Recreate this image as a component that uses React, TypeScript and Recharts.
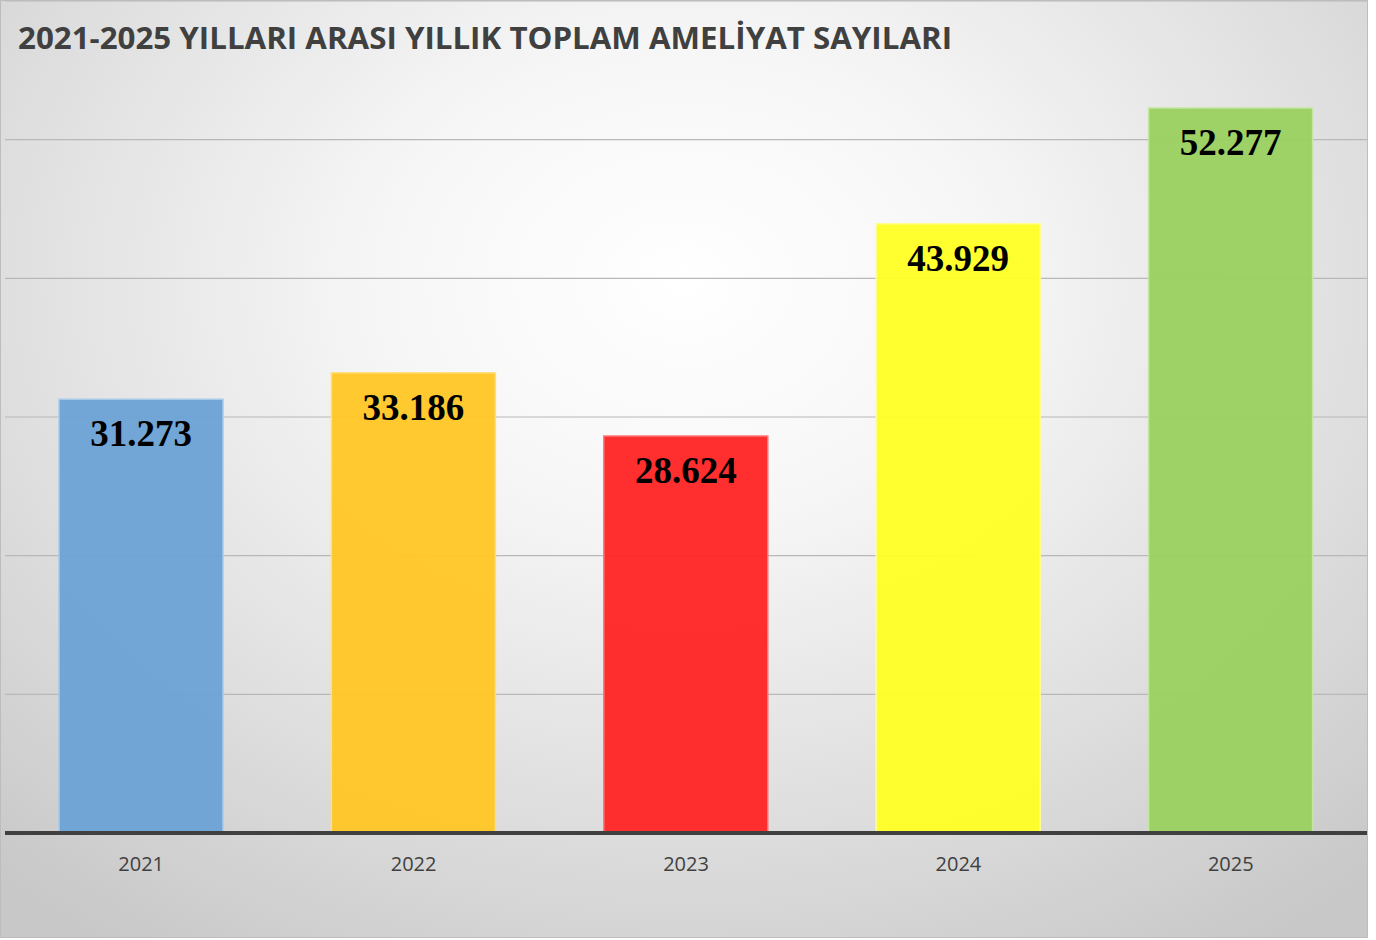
import React from "react";
import { Bar, BarChart, CartesianGrid, Cell, LabelList, XAxis, YAxis } from "recharts";

const years = ["2021", "2022", "2023", "2024", "2025"];
const surgeries = [31273, 33186, 28624, 43929, 52277];
const barColors = ["#6aa2d6", "#ffc624", "#ff2424", "#ffff24", "#9ad160"];
const barEdges = ["#a9c9ea", "#ffdf80", "#ff7878", "#ffff90", "#c4e6a0"];
const gridTicks = [0, 10000, 20000, 30000, 40000, 50000];

const data = years.map((year, i) => ({ year, value: surgeries[i] }));

const formatTr = (v: number) => String(v).replace(/\B(?=(\d{3})+(?!\d))/g, ".");

const ValueLabel = (props: any) => {
  const { x, y, width, value } = props;
  return (
    <text
      x={x + width / 2}
      y={y + 47}
      textAnchor="middle"
      fontFamily="'Liberation Serif', 'Times New Roman', serif"
      fontWeight={700}
      fontSize={37}
      fill="#000"
    >
      {formatTr(value)}
    </text>
  );
};

const YearTick = (props: any) => {
  const { x, y, payload } = props;
  return (
    <text
      x={x}
      y={y + 38}
      textAnchor="middle"
      fontFamily="'Open Sans', sans-serif"
      fontSize={20}
      fill="#404040"
    >
      {payload.value}
    </text>
  );
};

const App = () => {
  return (
    <div
      style={{
        position: "absolute",
        left: 0,
        top: 0,
        width: 1366,
        height: 936,
        border: "1px solid #bdbdbd",
        background:
          "radial-gradient(ellipse 75% 85% at 50% 30%, #ffffff 0%, #f6f6f6 30%, #e0e0e0 65%, #c8c8c8 100%)",
      }}
    >
      <BarChart
        width={1366}
        height={936}
        data={data}
        margin={{ top: 0, right: 0, bottom: 0, left: 4 }}
      >
        <CartesianGrid vertical={false} stroke="#b8b8b8" strokeWidth={1.2} />
        <YAxis hide domain={[0, 60000]} ticks={gridTicks} />
        <XAxis
          dataKey="year"
          height={104}
          tickLine={false}
          tickSize={0}
          tickMargin={0}
          axisLine={{ stroke: "#404040", strokeWidth: 4 }}
          tick={<YearTick />}
        />
        <Bar dataKey="value" barSize={164} isAnimationActive={false} fillOpacity={0.95}>
          {data.map((d, i) => (
            <Cell key={d.year} fill={barColors[i]} stroke={barEdges[i]} strokeWidth={1.5} />
          ))}
          <LabelList dataKey="value" content={<ValueLabel />} />
        </Bar>
      </BarChart>
      <svg
        width={1000}
        height={60}
        style={{ position: "absolute", left: 0, top: 0, pointerEvents: "none" }}
      >
        <text
          x={17}
          y={48}
          fontFamily="'Open Sans', sans-serif"
          fontWeight={700}
          fontSize={31}
          fill="#404040"
          textLength={934}
          lengthAdjust="spacingAndGlyphs"
        >
          2021-2025 YILLARI ARASI YILLIK TOPLAM AMELİYAT SAYILARI
        </text>
      </svg>
    </div>
  );
};

export default App;
